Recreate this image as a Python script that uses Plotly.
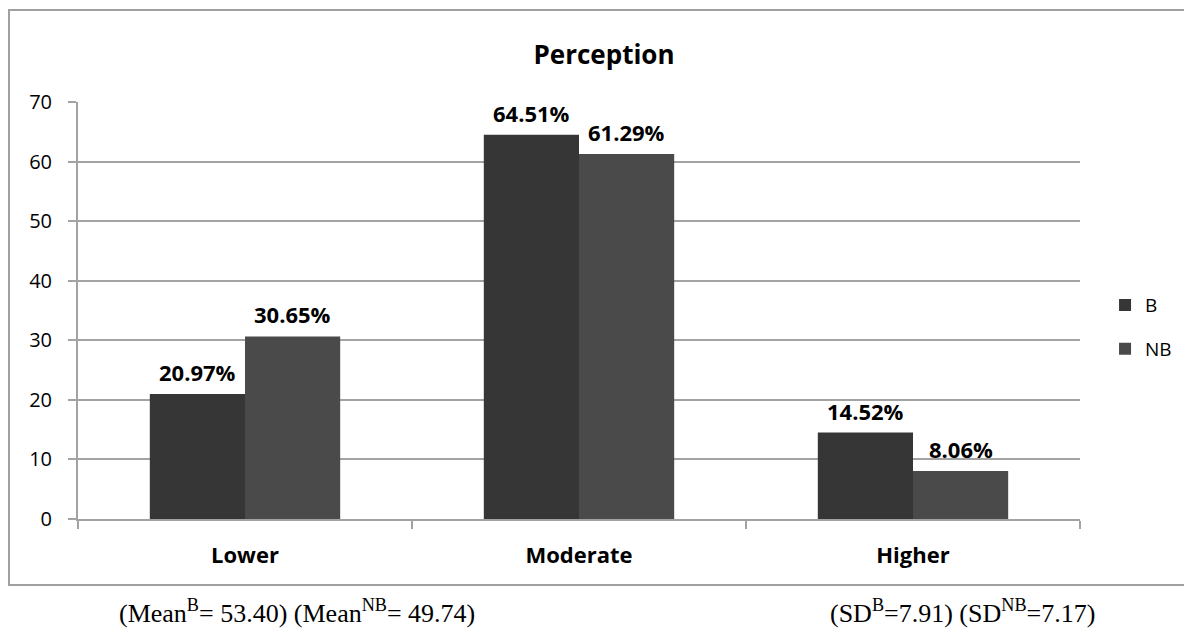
import plotly.graph_objects as go

categories = ["Lower", "Moderate", "Higher"]
b_values = [20.97, 64.51, 14.52]
nb_values = [30.65, 61.29, 8.06]
b_labels = ["20.97%", "64.51%", "14.52%"]
nb_labels = ["30.65%", "61.29%", "8.06%"]
y_ticks = [0, 10, 20, 30, 40, 50, 60, 70]

# the page body has an 8px margin, so figure coords = page coords - 8
W, H = 1184, 625
L, R, T, B = 70, 112, 94, 114
pw = W - L - R
ph = H - T - B
BARGAP = 0.43

grid = "#a3a3a3"
sans = "Open Sans, Liberation Sans, sans-serif"
label_font = dict(family=sans, size=22, color="#000000")

fig = go.Figure()
fig.add_trace(go.Bar(name="B", x=categories, y=b_values, marker_color="#363636",
                     marker_line_width=0, legendgroup="b"))
fig.add_trace(go.Bar(name="NB", x=categories, y=nb_values, marker_color="#4a4a4a",
                     marker_line_width=0, legendgroup="nb"))

# value labels above each bar
bar_px = pw / len(categories) * (1 - BARGAP) / 2
for vals, labs, sgn in ((b_values, b_labels, -1), (nb_values, nb_labels, 1)):
    for cat, v, lab in zip(categories, vals, labs):
        fig.add_annotation(x=cat, y=v, xref="x", yref="y", text="<b>" + lab + "</b>",
                           showarrow=False, xshift=sgn * bar_px / 2, yshift=22,
                           xanchor="center", yanchor="middle", font=label_font)

fig.update_layout(
    width=W, height=H,
    margin=dict(l=L, r=R, t=T, b=B, autoexpand=False),
    paper_bgcolor="white", plot_bgcolor="white",
    barmode="group", bargap=BARGAP, bargroupgap=0,
    font=dict(family=sans, size=18, color="#000000"),
    title=dict(text="<b>Perception</b>", x=596 / W, xanchor="center",
               y=1 - 47 / H, yanchor="middle", automargin=False,
               font=dict(size=26, family=sans)),
    showlegend=True,
    legend=dict(x=1.025, xanchor="left", y=0.46, yanchor="middle",
                font=dict(size=19), tracegroupgap=16, traceorder="grouped",
                itemwidth=30, bgcolor="rgba(0,0,0,0)"),
)

fig.update_xaxes(showline=True, linecolor=grid, linewidth=2, automargin=False,
                 ticks="outside", tickson="boundaries", ticklen=8, tickwidth=2,
                 tickcolor=grid, tickfont=dict(size=22), ticklabelstandoff=16,
                 tickprefix="<b>", ticksuffix="</b>", showgrid=False)
fig.update_yaxes(range=[0, 70], tickvals=y_ticks, showline=True, linecolor=grid,
                 linewidth=2, ticks="outside", ticklen=8, tickwidth=2, tickcolor=grid,
                 showgrid=True, gridcolor=grid, gridwidth=2, zeroline=False,
                 automargin=False, tickfont=dict(size=20), ticklabelstandoff=12)

# outer chart border
fig.add_shape(type="rect", xref="paper", yref="paper",
              x0=(1 - L) / pw, x1=(1200 - L) / pw,
              y0=(H - B - 577) / ph, y1=(H - B - 2) / ph,
              line=dict(color="#a0a0a0", width=2), fillcolor="rgba(0,0,0,0)", layer="below")

serif = dict(family="Liberation Serif, Times New Roman, serif", size=26, color="#000000")
fig.add_annotation(xref="paper", yref="paper", x=(109 - L) / pw, y=(H - B - 603) / ph,
                   xanchor="left", yanchor="middle", showarrow=False,
                   text="(Mean<sup>B</sup>= 53.40) (Mean<sup>NB</sup>= 49.74)", font=serif)
fig.add_annotation(xref="paper", yref="paper", x=(820 - L) / pw, y=(H - B - 603) / ph,
                   xanchor="left", yanchor="middle", showarrow=False,
                   text="(SD<sup>B</sup>=7.91) (SD<sup>NB</sup>=7.17)", font=serif)

fig.write_html("out.html")
